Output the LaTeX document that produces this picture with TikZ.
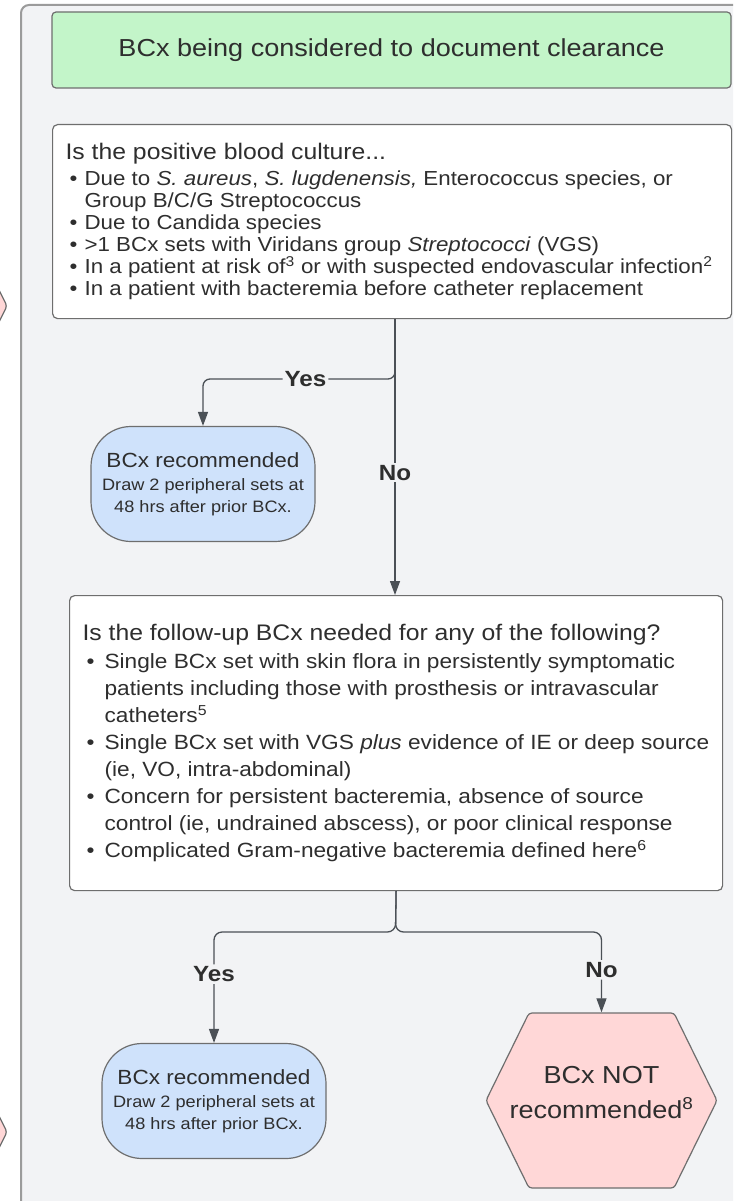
\documentclass[tikz,border=0pt]{standalone}
\usepackage{fontspec}
\setmainfont{Liberation Sans}[FakeStretch=1.1]
\usepackage{tikz}
\usetikzlibrary{arrows.meta,positioning,calc}
\definecolor{panelgray}{HTML}{F2F3F5}
\definecolor{framegray}{HTML}{9B9B9B}
\definecolor{edgegray}{HTML}{6E6E6E}
\definecolor{startgreen}{HTML}{C3F5C9}
\definecolor{recblue}{HTML}{CFE2FB}
\definecolor{notpink}{HTML}{FFD7D7}
\definecolor{inkgray}{HTML}{2E2E2E}
\definecolor{linegray}{HTML}{4B5056}
\setlength{\parindent}{0pt}
\newcommand{\plainspace}{\spaceskip=\fontdimen2\font\relax\xspaceskip=\fontdimen2\font\relax}
\newcommand{\askfont}{\fontsize{22.5pt}{26pt}\selectfont\plainspace}
\newcommand{\listfont}{\fontsize{20.3pt}{22pt}\selectfont\plainspace}
\newcommand{\listfontb}{\fontsize{20.6pt}{27pt}\selectfont\plainspace}
\newcommand{\recfont}{\fontsize{20.5pt}{23pt}\selectfont\plainspace}
\newcommand{\drawfont}{\fontsize{16.5pt}{22pt}\selectfont\plainspace}
\newcommand{\notfont}{\fontsize{24.6pt}{35pt}\selectfont\plainspace}
\newcommand{\bul}[2][19pt]{\makebox[#1][l]{\hspace{4pt}\textbullet}\mbox{#2}}
\newcommand{\cont}[2][19pt]{\hspace*{#1}\mbox{#2}}

\begin{document}
\begin{tikzpicture}[
  x=1pt, y=-1pt,
  every node/.style={text=inkgray},
  startbox/.style={rectangle, rounded corners=4pt, draw=edgegray, fill=startgreen, line width=1.2pt, minimum width=679pt, minimum height=76pt, font=\fontsize{24.6pt}{29pt}\selectfont},
  askbox/.style={rectangle, rounded corners=5pt, draw=edgegray, fill=white, line width=1.2pt, align=left, inner xsep=13pt, inner ysep=0pt, anchor=north west},
  recbox/.style={rectangle, rounded corners=40pt, draw=edgegray, fill=recblue, line width=1.2pt, minimum width=224pt, minimum height=115pt, text width=224pt, align=center, inner sep=0pt},
  hexshape/.style={draw=edgegray, fill=notpink, line width=1.2pt, rounded corners=3pt},
  choice/.style={fill=panelgray, font=\bfseries\fontsize{22pt}{24pt}\selectfont, inner sep=2pt},
  arrow/.style={-{Triangle[length=14pt,width=10pt]}, draw=linegray, line width=1.3pt}
]
\useasboundingbox (0,0) rectangle (733,1201);
\clip (0,0) rectangle (733,1201);
\fill[white] (0,0) rectangle (733,1201);

% pieces of the neighbouring column
\draw[hexshape] (-20,252) -- (7,306) -- (-20,360);
\draw[hexshape] (-20,1078) -- (7,1132) -- (-20,1186);

% lane
\draw[fill=panelgray, draw=framegray, line width=2pt, rounded corners=8pt] (21,5) rectangle (780,1250);

\node[startbox] (start) at (391.5,50) {BCx being considered to document clearance};

\node[askbox, minimum width=679pt, minimum height=194pt, text width=653pt] (ask1) at (52,124) {%
\askfont Is the positive blood culture...\\[4pt]
\listfont\bul{Due to \textit{S. aureus}, \textit{S. lugdenensis,} Enterococcus species, or}\\
\cont{Group B/C/G Streptococcus}\\
\bul{Due to Candida species}\\
\bul{>1 BCx sets with Viridans group \textit{Streptococci} (VGS)}\\
\bul{In a patient at risk of\textsuperscript{3} or with suspected endovascular infection\textsuperscript{2}}\\
\bul{In a patient with bacteremia before catheter replacement}\par};

\coordinate (fork1) at (395,379);
\node[recbox] (rec1) at (203,484) {\recfont BCx recommended\\[1pt]
\drawfont Draw 2 peripheral sets at\\ 48 hrs after prior BCx.\par};

\node[askbox, minimum width=653pt, minimum height=295pt, text width=627pt] (ask2) at (69,595) {%
\askfont Is the follow-up BCx needed for any of the following?\\[1pt]
\listfontb\bul[22pt]{Single BCx set with skin flora in persistently symptomatic}\\
\cont[22pt]{patients including those with prosthesis or intravascular}\\
\cont[22pt]{catheters\textsuperscript{5}}\\
\bul[22pt]{Single BCx set with VGS \textit{plus} evidence of IE or deep source}\\
\cont[22pt]{(ie, VO, intra-abdominal)}\\
\bul[22pt]{Concern for persistent bacteremia, absence of source}\\
\cont[22pt]{control (ie, undrained abscess), or poor clinical response}\\
\bul[22pt]{Complicated Gram-negative bacteremia defined here\textsuperscript{6}}\par};

\coordinate (fork2) at (395.5,932);
\node[recbox] (rec2) at (214,1101) {\recfont BCx recommended\\[1pt]
\drawfont Draw 2 peripheral sets at\\ 48 hrs after prior BCx.\par};

\coordinate (hexc) at (601.5,1100.5);
\draw[hexshape] ($(hexc)+(-115.5,0)$) -- ++(43,-87.5) -- ++(145,0) -- ++(43,87.5) -- ++(-43,87.5) -- ++(-145,0) -- cycle;
\node[inner sep=0pt, minimum height=161pt, text width=231pt, align=center] (notrec) at (601.5,1093) {\notfont BCx NOT\\ recommended\textsuperscript{8}\par};

\draw[arrow] (ask1.south -| fork1) -- (ask2.north -| fork1) node[choice, pos=0.556] {No};
\draw[arrow, rounded corners=7pt] ($(fork1)+(0,-9)$) -- (fork1) -| (rec1.north) node[choice, pos=0.233] {Yes};
\draw[arrow, rounded corners=8pt] (ask2.south) -- (fork2) -| (rec2.north) node[choice, pos=0.69] {Yes};
\draw[arrow, rounded corners=8pt] (ask2.south) -- (fork2) -| (notrec.north) node[choice, pos=0.736] {No};
\end{tikzpicture}
\end{document}
